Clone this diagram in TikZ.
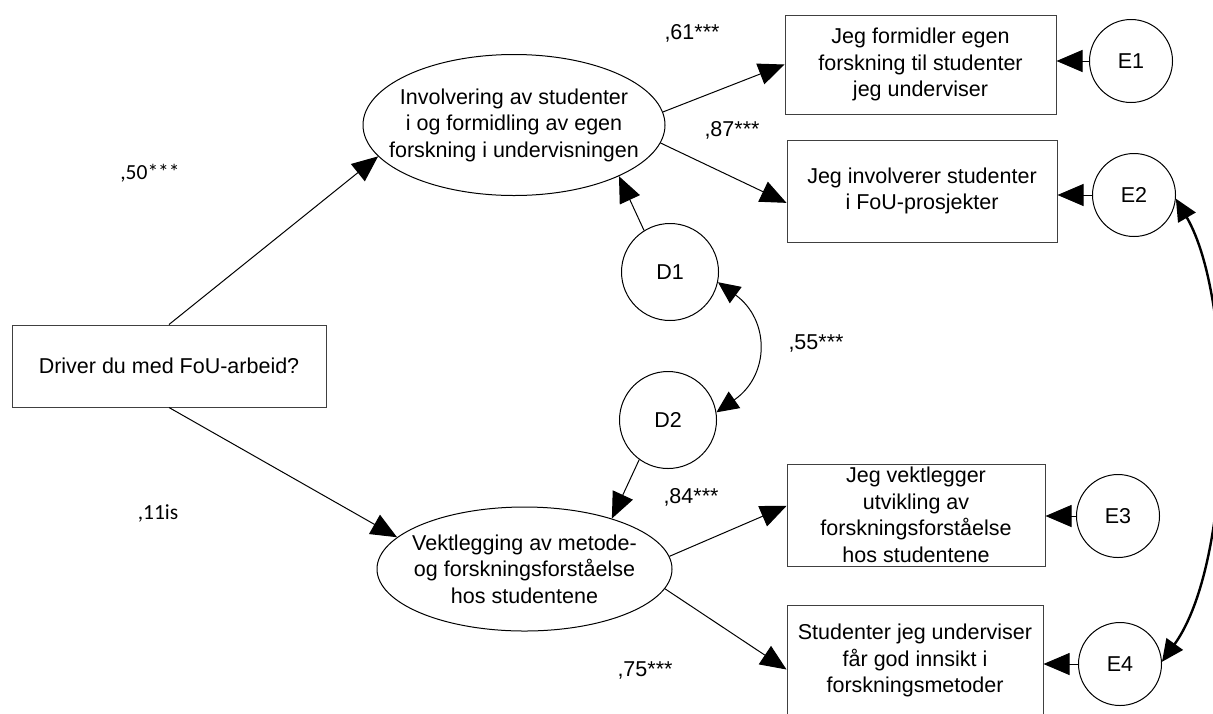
\documentclass[tikz,border=0pt]{standalone}
\usepackage{fontspec}
\setmainfont{Liberation Sans}
\newfontfamily\coeffont{Carlito}
\usetikzlibrary{shapes.geometric, arrows.meta}

\tikzset{
    semfont/.style={font=\fontsize{10.75}{13.25}\selectfont},
    obsbox/.style={draw=black!75, line width=0.5pt, rectangle, inner sep=0pt, align=center, semfont},
    latent/.style={draw, line width=0.5pt, ellipse, inner sep=0pt},
    resid/.style={draw, line width=0.5pt, circle, inner sep=0pt, semfont},
    coef/.style={inner sep=0pt, semfont},
    regline/.style={line width=0.5pt, -{Triangle[length=13pt, width=11pt]}},
    covline/.style={{Triangle[length=11pt, width=10pt]}-{Triangle[length=11pt, width=10pt]}}
}

\begin{document}
\begin{tikzpicture}[x=0.5pt, y=-0.5pt]
    \useasboundingbox (0,0) rectangle (1213,713);

    % Exogenous variable
    \node[obsbox, minimum width=157pt, minimum height=41pt] (fou) at (169,366) {Driver du med FoU-arbeid?};

    % Latent factors
    \node[latent, minimum width=151pt, minimum height=70.5pt,
          label={[semfont, align=center]center:Involvering av studenter\\i og formidling av egen\\forskning i undervisningen}] (invol) at (514,125) {};
    \node[latent, minimum width=147.5pt, minimum height=62pt,
          label={[semfont, align=center]center:Vektlegging av metode-\\og forskningsforståelse\\hos studentene}] (metode) at (524.5,569) {};

    % Disturbances
    \node[resid, minimum size=48.5pt] (D1) at (670,272) {D1};
    \node[resid, minimum size=48.5pt] (D2) at (668,420) {D2};

    % Indicators
    \node[obsbox, minimum width=135.5pt, minimum height=49.5pt] (box1) at (920.5,64.5) {Jeg formidler egen\\forskning til studenter\\jeg underviser};
    \node[obsbox, minimum width=135pt, minimum height=51pt] (box2) at (922,191) {Jeg involverer studenter\\i FoU-prosjekter};
    \node[obsbox, minimum width=129pt, minimum height=51pt] (box3) at (916,515) {Jeg vektlegger\\utvikling av\\forskningsforståelse\\hos studentene};
    \node[obsbox, minimum width=128pt, minimum height=55.5pt] (box4) at (915,660.5) {Studenter jeg underviser\\får god innsikt i\\forskningsmetoder};

    % Measurement errors
    \node[resid, minimum size=41.5pt] (E1) at (1131,61) {E1};
    \node[resid, minimum size=41.5pt] (E2) at (1134,195) {E2};
    \node[resid, minimum size=41.5pt] (E3) at (1118,516) {E3};
    \node[resid, minimum size=41.5pt] (E4) at (1120,664) {E4};

    % Coefficients
    \node[coef, font=\coeffont\fontsize{10.75}{13}\selectfont] (c50) at (150,173) {,50***};
    \node[coef, font=\coeffont\fontsize{10.75}{13}\selectfont] (c11) at (158,513) {,11is};
    \node[coef] (c61) at (692,33) {,61***};
    \node[coef] (c87) at (732,130) {,87***};
    \node[coef] (c55) at (816,343) {,55***};
    \node[coef] (c84) at (691,497) {,84***};
    \node[coef] (c75) at (645,670) {,75***};

    % Structural paths
    \draw[regline] (fou.north) -- (invol.193);
    \draw[regline] (fou.south) -- (metode.166);
    \draw[regline] (D1.122) -- (invol.-26);
    \draw[regline] (D2.234) -- (metode.30);

    % Loadings
    \draw[regline] (invol.5) -- (box1.west);
    \draw[regline] (invol.-7) -- (box2.185);
    \draw[regline] (metode.5) -- (box3.176);
    \draw[regline] (metode.-8) -- (box4.184);

    % Errors
    \draw[regline] (E1.west) -- (E1.west -| box1.east);
    \draw[regline] (E2.west) -- (E2.west -| box2.east);
    \draw[regline] (E3.west) -- (E3.west -| box3.east);
    \draw[regline] (E4.west) -- (E4.west -| box4.east);

    % Covariances
    \draw[covline, line width=0.5pt] (D1.-12) .. controls (770,320) and (770,375) .. (D2.9);
    \draw[covline, line width=1.2pt] (E2.-5) .. controls (1235,300) and (1235,560) .. (E4.3);
\end{tikzpicture}
\end{document}
